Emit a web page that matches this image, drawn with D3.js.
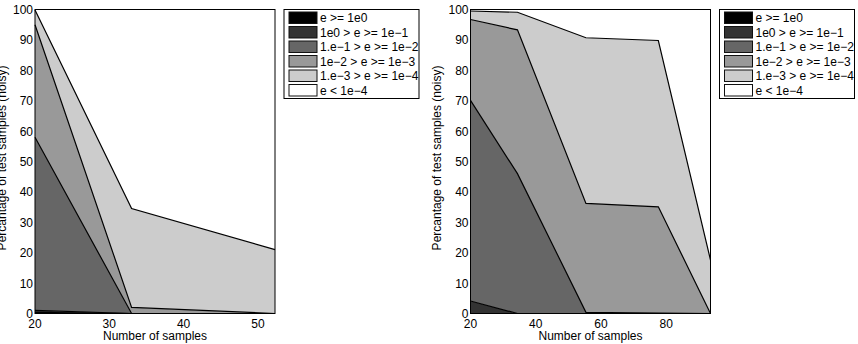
<html>

<head>
<script src="https://d3js.org/d3.v7.min.js"></script>

<style>

    body {
        margin: 0;
        background: white;
    }

    svg {
        font-family: "Liberation Sans", Arial, sans-serif;
        font-size: 12px;
    }

    .frame {
        fill: none;
        stroke: black;
        stroke-width: 1;
    }

    .edge {
        fill: none;
        stroke: black;
        stroke-width: 1.2;
    }

</style>

</head>

<body>

    <svg id='chart' width=858 height=344></svg>

<script>

    // error bands, shared by both panels
    let bandLabels = ['e >= 1e0', '1e0 > e >= 1e\u22121', '1.e\u22121 > e >= 1e\u22122',
                      '1e\u22122 > e >= 1e\u22123', '1.e\u22123 > e >= 1e\u22124', 'e < 1e\u22124'];

    // left panel: percentage of test samples in each band, per number of samples
    let leftSamples = [20, 33, 52.3];
    let leftBands = [
        [0.4, 0, 0],
        [0.6, 0, 0],
        [57, 0, 0],
        [37, 2, 0],
        [4.8, 32.5, 21],
        [0.2, 65.5, 79]
    ];
    let leftTicks = [20, 30, 40, 50];

    // right panel
    let rightSamples = [20, 34.4, 55.4, 77.6, 93.6];
    let rightBands = [
        [0, 0, 0, 0, 0],
        [4.1, 0, 0, 0, 0],
        [66, 46, 0.4, 0.1, 0],
        [26.6, 47.3, 35.8, 35, 0],
        [2.8, 5.8, 54.5, 54.7, 17.6],
        [0.5, 0.9, 9.3, 10.2, 82.4]
    ];
    let rightTicks = [20, 40, 60, 80];

    let yTicks = d3.range(0, 101, 10);

    let fills = ['#000000', '#333333', '#666666', '#999999', '#cccccc', '#ffffff'];

    let svg = d3.select('#chart');
    let plotTop = 9.5, plotBottom = 313.5;

    function panel(samples, bands, ticks, left, right) {

        let x = d3.scaleLinear()
            .domain(d3.extent(samples))
            .range([left, right]);

        let y = d3.scaleLinear()
            .domain([0, 100])
            .range([plotBottom, plotTop]);

        let rows = samples.map((s, i) => {
            let r = { n: s };
            bands.forEach((b, k) => r[k] = b[i]);
            return r;
        });

        let stack = d3.stack().keys(d3.range(bands.length))(rows);

        let area = d3.area()
            .x(d => x(d.data.n))
            .y0(d => y(d[0]))
            .y1(d => y(d[1]));

        let line = d3.line()
            .x(d => x(d.data.n))
            .y(d => y(d[1]));

        let g = svg.append('g');

        g.selectAll('.band')
            .data(stack)
          .enter()
            .append('path')
            .attr('class', 'band')
            .attr('fill', (d, i) => fills[i])
            .attr('d', area);

        g.selectAll('.edge')
            .data(stack)
          .enter()
            .append('path')
            .attr('class', 'edge')
            .attr('d', line);

        g.append('rect')
            .attr('class', 'frame')
            .attr('x', left)
            .attr('y', plotTop)
            .attr('width', right - left)
            .attr('height', plotBottom - plotTop);

        // tick labels, no tick marks
        g.selectAll('.xt')
            .data(ticks)
          .enter()
            .append('text')
            .attr('x', d => x(d))
            .attr('y', plotBottom + 14)
            .attr('text-anchor', 'middle')
            .text(d => d);

        g.selectAll('.yt')
            .data(yTicks)
          .enter()
            .append('text')
            .attr('x', left - 2)
            .attr('y', d => y(d) + 4.5)
            .attr('text-anchor', 'end')
            .text(d => d);

        g.append('text')
            .attr('x', (left + right) / 2)
            .attr('y', 340)
            .attr('text-anchor', 'middle')
            .text('Number of samples');

        g.append('text')
            .attr('transform', 'translate(' + (left - 29.5) + ',158) rotate(-90)')
            .attr('text-anchor', 'middle')
            .text('Percantage of test samples (noisy)');

        // legend
        let lx = right + 9, ly = plotTop;
        let lg = g.append('g').attr('transform', 'translate(' + lx + ',' + ly + ')');

        lg.append('rect')
            .attr('width', 135)
            .attr('height', 89)
            .attr('fill', 'white')
            .attr('stroke', 'black');

        let item = lg.selectAll('.item')
            .data(bandLabels)
          .enter()
            .append('g')
            .attr('transform', (d, i) => 'translate(5,' + (2.5 + i * 14.5) + ')');

        item.append('rect')
            .attr('width', 28)
            .attr('height', 11.5)
            .attr('fill', (d, i) => fills[i])
            .attr('stroke', '#111');

        item.append('text')
            .attr('x', 31)
            .attr('y', 10)
            .text(d => d);
    }

    panel(leftSamples, leftBands, leftTicks, 35, 275);
    panel(rightSamples, rightBands, rightTicks, 470.5, 710.5);

</script>

</body>

</html>
